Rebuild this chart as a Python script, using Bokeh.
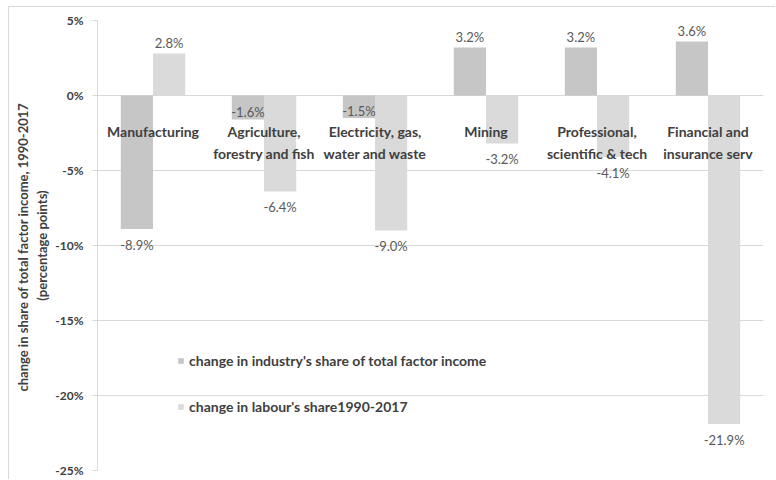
from bokeh.plotting import figure
from bokeh.models import FixedTicker, PrintfTickFormatter, Range1d, Legend
from bokeh.core.properties import value
from bokeh.embed import file_html
from bokeh.resources import INLINE

categories = ["Manufacturing", "Agriculture,\nforestry and fish", "Electricity, gas,\nwater and waste",
              "Mining", "Professional,\nscientific & tech", "Financial and\ninsurance serv"]
industry_share = [-8.9, -1.6, -1.5, 3.2, 3.2, 3.6]
labour_share = [2.8, -6.4, -9.0, -3.2, -4.1, -21.9]
y_ticks = [5, 0, -5, -10, -15, -20, -25]
series_names = ["change in industry's share of total factor income", "change in labour's share1990-2017"]

FONT = "Lato"
DARK = "#c6c6c6"
LIGHT = "#dadada"
GRID = "#d9d9d9"
TEXT = "#404040"

p = figure(width=767, height=473, output_backend="svg", toolbar_location=None,
           x_range=Range1d(-0.5, 5.5), y_range=Range1d(-25, 5),
           min_border_left=88, min_border_right=13, min_border_top=13, min_border_bottom=10)
# outer chart-area border: only its top and left edges fall inside the picture
p.styles = {"margin-left": "8px", "margin-top": "6px",
            "border-left": "1px solid #d9d9d9", "border-top": "1px solid #d9d9d9"}
p.outline_line_color = None
p.xaxis.visible = False
p.xgrid.visible = False
p.ygrid.ticker = FixedTicker(ticks=y_ticks)
p.ygrid.grid_line_color = GRID

ya = p.yaxis[0]
ya.ticker = FixedTicker(ticks=y_ticks)
ya.formatter = PrintfTickFormatter(format="%d%%")
ya.axis_line_color = GRID
ya.major_tick_line_color = GRID
ya.major_tick_out = 5
ya.major_tick_in = 0
ya.minor_tick_line_color = None
ya.major_label_text_font = FONT
ya.major_label_text_font_style = "bold"
ya.major_label_text_font_size = "12px"
ya.major_label_text_color = TEXT
ya.major_label_standoff = 9
ya.axis_label = "change in  share of total factor income, 1990-2017\n(percentage points)"
ya.axis_label_text_font = FONT
ya.axis_label_text_font_style = "bold"
ya.axis_label_text_font_size = "13px"
ya.axis_label_text_color = TEXT
ya.axis_label_standoff = 2

idx = list(range(len(categories)))
w = 0.29
r1 = p.vbar(x=[i - w / 2 for i in idx], top=industry_share, bottom=0, width=w,
            fill_color=DARK, line_color=None)
r2 = p.vbar(x=[i + w / 2 for i in idx], top=labour_share, bottom=0, width=w,
            fill_color=LIGHT, line_color=None)

# category labels just under the zero line
p.text(x=idx, y=[-1.8] * len(idx), text=categories, text_align="center", text_baseline="top",
       text_font=value(FONT), text_font_style="bold", text_font_size="14px", text_color=TEXT,
       text_line_height=1.3)

def label_y(v):
    if v >= 0:
        return v + 0.73
    if v > -2:
        return v + 0.47
    return v - 1.05

for vals, off in ((industry_share, -w / 2), (labour_share, w / 2)):
    p.text(x=[i + off for i in idx], y=[label_y(v) for v in vals],
           text=["%.1f%%" % v for v in vals], text_align="center", text_baseline="middle",
           text_font=value(FONT), text_font_size="13px", text_color="#595959")

legend = Legend(items=[(series_names[0], [r1]), (series_names[1], [r2])], location=(80, 55),
                glyph_width=7, glyph_height=7, label_height=16, spacing=29, padding=0, margin=0,
                label_standoff=5, border_line_color=None, background_fill_alpha=0,
                label_text_font=FONT, label_text_font_style="bold", label_text_font_size="14px",
                label_text_color=TEXT)
p.add_layout(legend, "center")

open("out.html", "w").write(file_html(p, INLINE))
